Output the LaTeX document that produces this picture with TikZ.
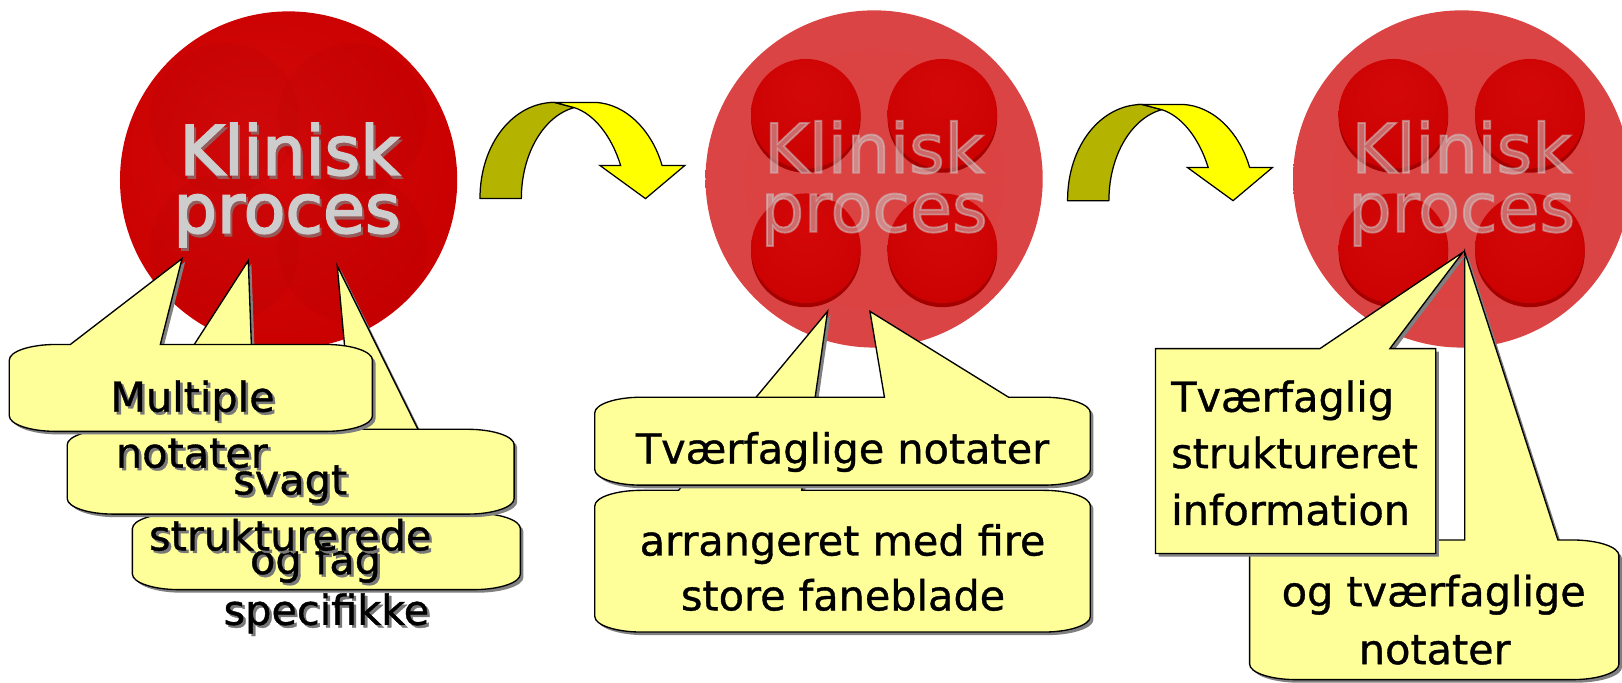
\documentclass[tikz,border=0pt]{standalone}
\usepackage{fontspec}
\setmainfont{DejaVu Sans}
\newfontfamily\calloutfont[FakeBold=0.9]{DejaVu Sans}
\newfontfamily\titlefont[FakeBold=2.6]{DejaVu Sans}
\definecolor{boxfill}{RGB}{255,255,153}
\definecolor{arrowolive}{RGB}{180,180,0}
\definecolor{arrowyellow}{RGB}{255,255,0}
\definecolor{shadowc}{RGB}{128,128,128}
\definecolor{tshadow}{RGB}{120,120,120}
\definecolor{titlegray}{RGB}{205,205,205}
\definecolor{titleshadow}{RGB}{150,90,90}
\definecolor{tabrim}{RGB}{165,0,0}
\pgfdeclareradialshading{redball}{\pgfpoint{-6bp}{6bp}}{rgb(0bp)=(0.83,0.04,0.04); rgb(30bp)=(0.79,0,0); rgb(44bp)=(0.76,0,0); rgb(48bp)=(0.73,0,0); rgb(50bp)=(0.66,0,0)}
\pgfdeclareradialshading{pinkdisk}{\pgfpoint{0bp}{0bp}}{rgb(0bp)=(0.86,0.26,0.26); rgb(41bp)=(0.86,0.27,0.27); rgb(43bp)=(0.89,0.32,0.32); rgb(47bp)=(0.88,0.31,0.31); rgb(50bp)=(0.79,0.21,0.21)}
\pgfdeclareradialshading{tab}{\pgfpoint{0bp}{12bp}}{rgb(0bp)=(0.83,0.03,0.03); rgb(40bp)=(0.79,0,0); rgb(50bp)=(0.75,0,0)}
\newcommand{\cf}{\calloutfont\fontsize{40}{52}\selectfont}
\newcommand{\tf}{\titlefont\fontsize{66}{56}\selectfont}
\tikzset{
  cbox/.style={fill=boxfill, draw=black, line width=1.3pt, line join=miter},
  cshadow/.style={fill=shadowc},
  ctext/.style={anchor=base, inner sep=0pt, font=\cf, text=black},
  cshtext/.style={anchor=base, inner sep=0pt, font=\cf, text=tshadow},
  ctextl/.style={anchor=base west, inner sep=0pt, font=\cf, text=black},
  title/.style={anchor=base, inner sep=0pt, font=\tf},
  olivepart/.style={fill=arrowolive, draw=black, line width=1.2pt, line join=round},
  yellowpart/.style={fill=arrowyellow, draw=black, line width=1.2pt, line join=miter}
}
\def\crx{45}
\def\cry{15}
% rounded callout path: x1 y1 x2 y2 wedge-left tipx tipy wedge-right
\newcommand{\cp}[8]{(#1,{#2+\cry}) .. controls (#1,{#2+0.45*\cry}) and ({#1+0.45*\crx},#2) .. ({#1+\crx},#2) -- (#5,#2) -- (#6,#7) -- (#8,#2) -- ({#3-\crx},#2) .. controls ({#3-0.45*\crx},#2) and (#3,{#2+0.45*\cry}) .. (#3,{#2+\cry}) -- (#3,{#4-\cry}) .. controls (#3,{#4-0.45*\cry}) and ({#3-0.45*\crx},#4) .. ({#3-\crx},#4) -- ({#1+\crx},#4) .. controls ({#1+0.45*\crx},#4) and (#1,{#4-0.45*\cry}) .. (#1,{#4-\cry}) -- cycle}
\newcommand{\pinkdisk}[1]{%
  \shade[shading=pinkdisk] (0,0) circle (163);
  \foreach \dx/\dy in {-66/-63,66/-63,-66/67,66/67}{
    \fill[tabrim] (\dx,{\dy+4}) circle (53);
    \shade[shading=tab] (\dx,\dy) circle (53);
  }
  \node[title, text=titlegray, text opacity=0.5] (#1k) at (0,-6) {Klinisk};
  \node[title, text=titlegray, text opacity=0.5] (#1p) at (0,51) {proces};
}
\newcommand{\curvedarrow}{%
  \filldraw[olivepart] (464,192) .. controls (464,138) and (497,99) .. (536,99) -- (555,104) .. controls (526,112) and (504,148) .. (504,192) -- cycle;
  \filldraw[yellowpart] (536,99) -- (575,99) .. controls (606,100) and (631,128) .. (640,160) -- (662,160) -- (624,192) -- (580,160) -- (600,160) .. controls (591,131) and (574,110) .. (555,104) -- cycle;
}
\begin{document}
\begin{tikzpicture}[x=1pt,y=-1pt]
\fill[white] (0,0) rectangle (1568,660);
\useasboundingbox (0,0) rectangle (1568,660);

% ---- circle 1
\begin{scope}[shift={(279,174)}]
  \shade[shading=redball] (0,0) circle (163);
  \foreach \dx/\dy in {-62/-60,62/-60,-62/66,62/66}{
    \fill[black, opacity=0.025] (\dx,\dy) circle (72);
  }
  \node[title, text=titleshadow] (k1s) at (3,-2) {Klinisk};
  \node[title, text=titleshadow] (p1s) at (0.5,54) {proces};
  \node[title, text=titlegray] (k1) at (1,-5) {Klinisk};
  \node[title, text=titlegray] (p1) at (-1.5,51) {proces};
\end{scope}

% ---- circle 2
\begin{scope}[shift={(845,173)}]
  \pinkdisk{c2}
\end{scope}

% ---- circle 3
\begin{scope}[shift={(1413,173)}]
  \pinkdisk{c3}
\end{scope}

% ---- curved arrows
\curvedarrow
\begin{scope}[shift={(568,2)}]
  \curvedarrow
\end{scope}

% ---- callouts of circle 1
\fill[cshadow, shift={(3,3)}] \cp{128}{496}{503}{570}{348}{326}{257}{444};
\filldraw[cbox] \cp{128}{496}{503}{570}{348}{326}{257}{444};
\node[cshtext] (t1cs) at (307.5,557.5) {og fag};
\node[cshtext] (t1ds) at (318,606.5) {specifikke};
\node[ctext] (t1c) at (305,555) {og fag};
\node[ctext] (t1d) at (315.5,604) {specifikke};

\fill[cshadow, shift={(3,3)}] \cp{65}{415}{497}{497}{135}{240}{252}{246};
\filldraw[cbox] \cp{65}{415}{497}{497}{135}{240}{252}{246};
\node[cshtext] (t1bas) at (283,480.5) {svagt};
\node[cshtext] (t1bbs) at (283,534.5) {strukturerede};
\node[ctext] (t1ba) at (280.5,478) {svagt};
\node[ctext] (t1bb) at (280.5,532) {strukturerede};

\fill[cshadow, shift={(3,3)}] \cp{9}{333}{360}{417}{68}{176}{250}{155};
\filldraw[cbox] \cp{9}{333}{360}{417}{68}{176}{250}{155};
\node[cshtext] (t1aas) at (188.5,400.5) {Multiple};
\node[cshtext] (t1abs) at (188,454.5) {notater};
\node[ctext] (t1aa) at (186,398) {Multiple};
\node[ctext] (t1ab) at (185.5,452) {notater};

% ---- callouts of circle 2
\fill[cshadow, shift={(3,3)}] \cp{575}{474}{1054}{611}{656}{800}{301}{775};
\filldraw[cbox] \cp{575}{474}{1054}{611}{656}{800}{301}{775};
\node[ctext] (t2ba) at (814.5,537) {arrangeret med fire};
\node[ctext] (t2bb) at (815,590) {store faneblade};

\fill[cshadow, shift={(3,3)}] \cp{575}{384}{1054}{469}{855}{841}{301}{975};
\filldraw[cbox] \cp{575}{384}{1054}{469}{855}{841}{301}{975};
\node[ctext] (t2a) at (814.5,448) {Tværfaglige notater};

% ---- callouts of circle 3
\fill[cshadow, shift={(3,3)}] \cp{1208}{522}{1565}{657}{1416}{1416}{244}{1506};
\filldraw[cbox] \cp{1208}{522}{1565}{657}{1416}{1416}{244}{1506};
\node[ctext] (t3ba) at (1386,586) {og tværfaglige};
\node[ctext] (t3bb) at (1387,642) {notater};

\fill[cshadow, shift={(3,3)}] (1117,337) -- (1276,337) -- (1414,244) -- (1343.6,337) -- (1388,337) -- (1388,535) -- (1117,535) -- cycle;
\filldraw[cbox] (1117,337) -- (1276,337) -- (1414,244) -- (1343.6,337) -- (1388,337) -- (1388,535) -- (1117,535) -- cycle;
\node[ctextl] (t3aa) at (1132,398) {Tværfaglig};
\node[ctextl] (t3ab) at (1132,452.5) {struktureret};
\node[ctextl] (t3ac) at (1132,507.5) {information};
\end{tikzpicture}
\end{document}
